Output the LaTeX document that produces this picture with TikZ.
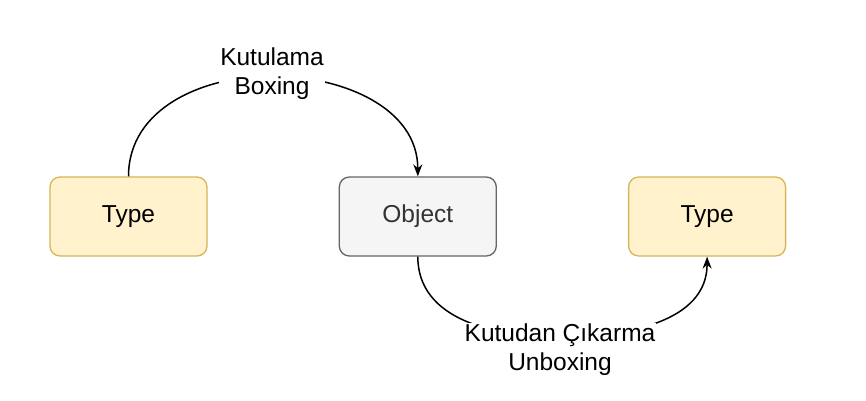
\documentclass[tikz,border=0pt]{standalone}
\usepackage{fontspec}
\setmainfont{Liberation Sans}
\usepackage{xcolor}
\usetikzlibrary{arrows.meta,positioning}
\definecolor{typefill}{HTML}{FFF2CC}
\definecolor{typeline}{HTML}{D6B656}
\definecolor{objfill}{HTML}{F5F5F5}
\definecolor{objline}{HTML}{666666}
\definecolor{objtext}{HTML}{333333}
\begin{document}
\begin{tikzpicture}[x=1pt,y=-1pt,
    box/.style={draw, rounded corners=10pt, line width=1.3pt, minimum width=157pt, minimum height=79pt, inner sep=0pt, font=\fontsize{24.5}{29}\selectfont},
    typebox/.style={box, fill=typefill, draw=typeline, text=black},
    objbox/.style={box, fill=objfill, draw=objline, text=objtext},
    lbl/.style={fill=white, align=center, inner sep=1pt, font=\fontsize{24.5}{29}\selectfont},
    conn/.style={line width=1.5pt, -{Stealth[length=12pt,width=9pt]}}]
    \useasboundingbox (0,0) rectangle (866,400);
    \node[typebox] (t1) at (128.5,216.5) {Type};
    \node[objbox, right=131pt of t1] (obj) {Object};
    \node[typebox, right=131pt of obj] (t2) {Type};
    \coordinate (bx) at (272,76);
    \coordinate (ux) at (560,337);
    \draw[conn] (t1.north) to[out=90,in=180] (bx) to[out=0,in=90] (obj.north);
    \draw[conn] (obj.south) to[out=-90,in=180] (ux) to[out=0,in=-90] (t2.south);
    \node[lbl] (boxing) at (272,74) {Kutulama\\Boxing};
    \node[lbl] (unboxing) at (560,350) {Kutudan Çıkarma\\Unboxing};
\end{tikzpicture}
\end{document}
